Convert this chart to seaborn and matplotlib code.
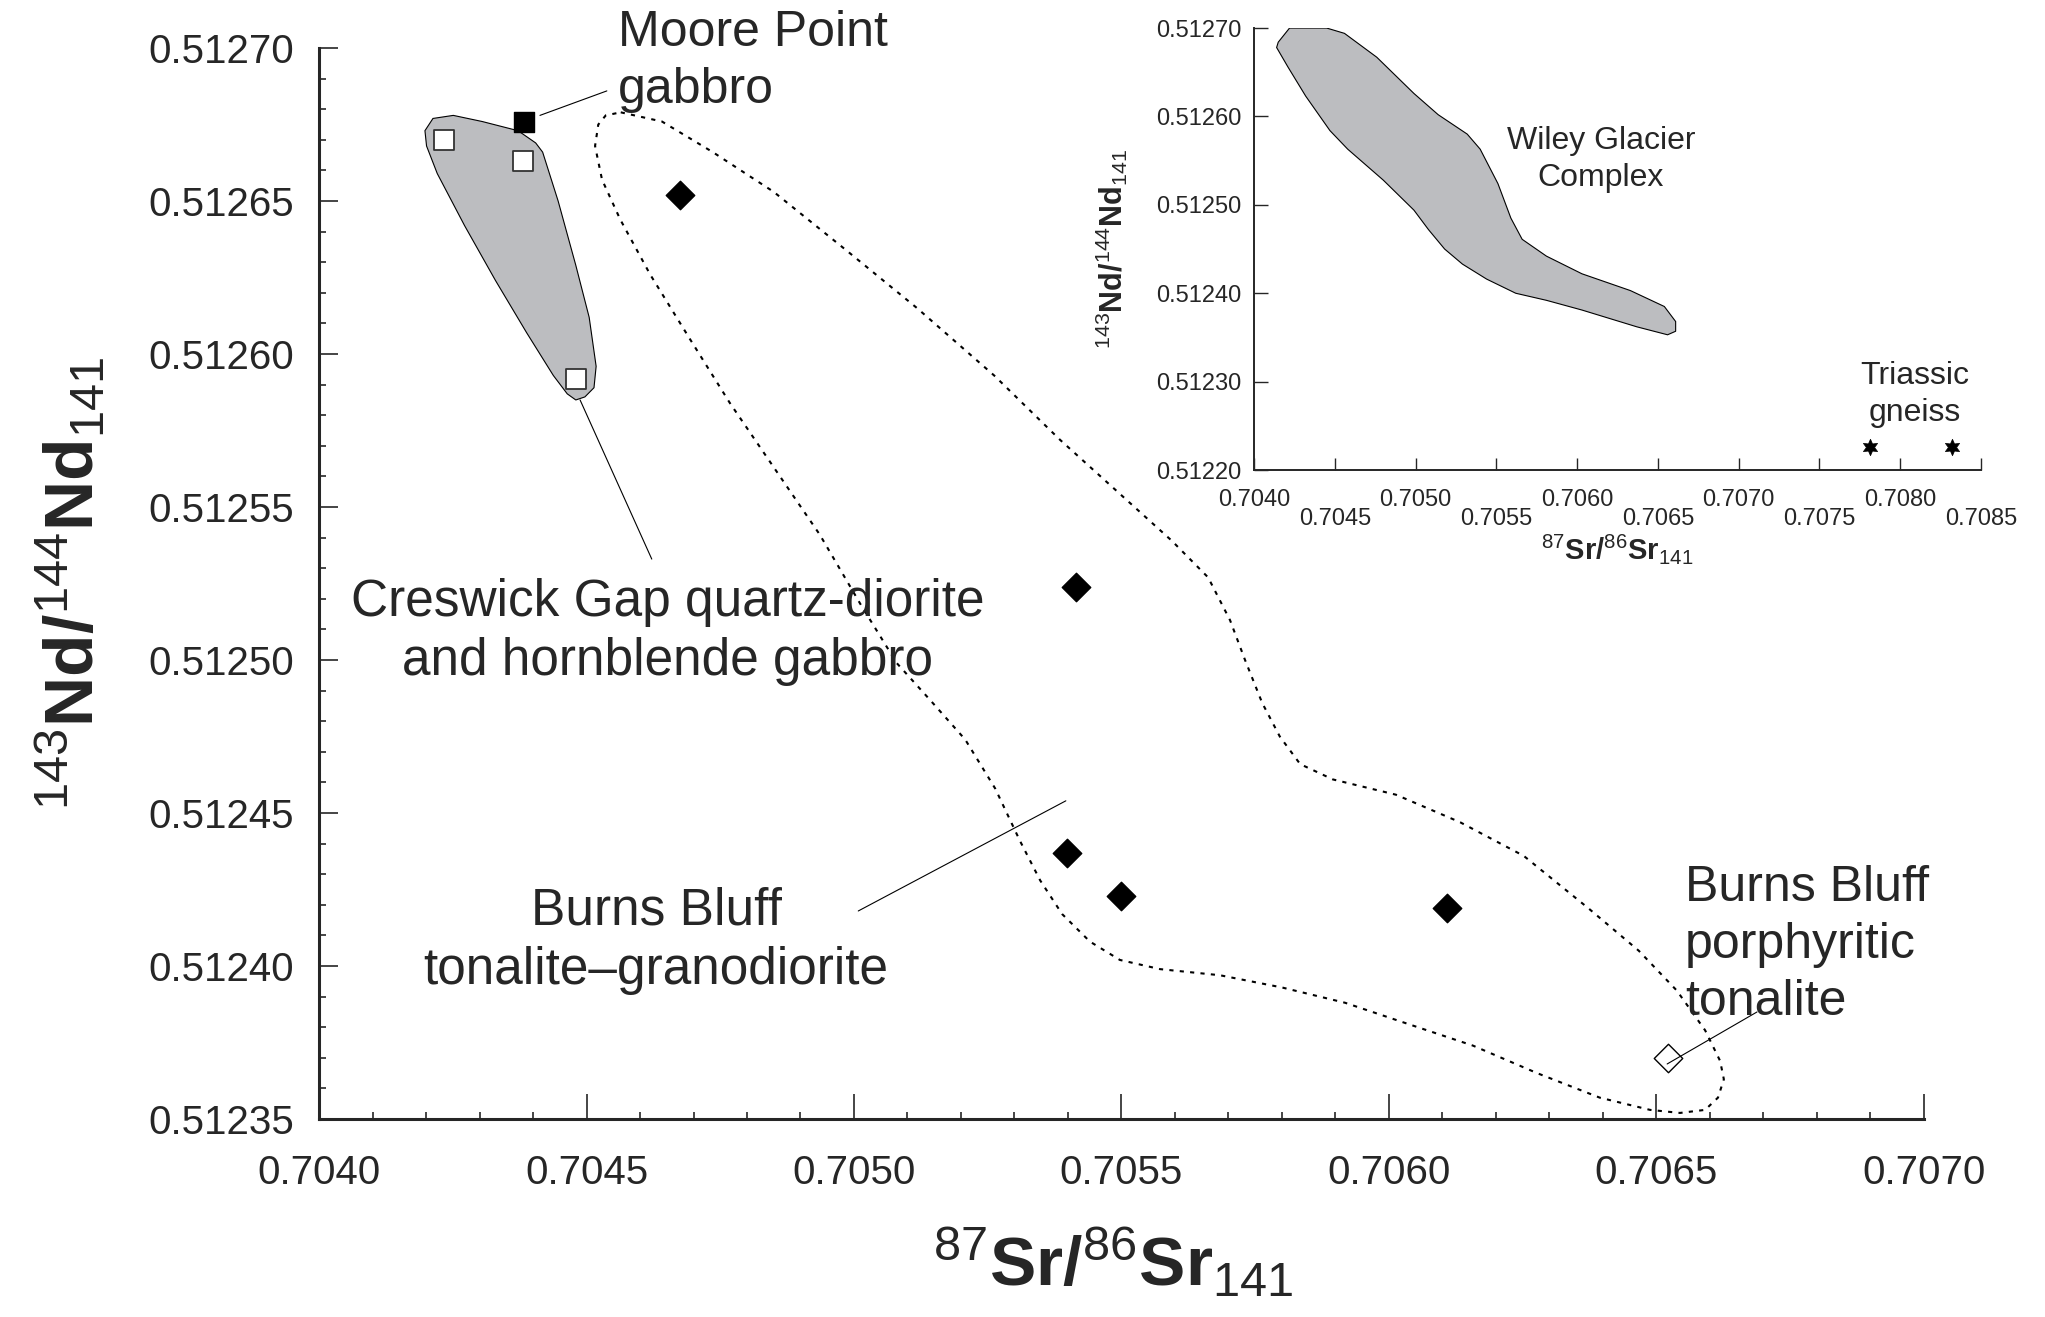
import numpy as np
import matplotlib
matplotlib.use('Agg')
import matplotlib.pyplot as plt
import seaborn as sns
from matplotlib.ticker import FixedLocator, MultipleLocator, FormatStrFormatter

# --- main plot data (87Sr/86Sr, 143Nd/144Nd) ---
creswick_sr = [0.704234, 0.704381, 0.704481]
creswick_nd = [0.512670, 0.512663, 0.512592]
moore_sr = [0.704383]
moore_nd = [0.512676]
burns_sr = [0.704674, 0.705415, 0.705398, 0.705500, 0.706109]
burns_nd = [0.512652, 0.512524, 0.512437, 0.512423, 0.512419]
porph_sr = [0.706522]
porph_nd = [0.512370]

# Creswick Gap field (grey)
creswick_field_sr = [0.704251, 0.704305, 0.704372, 0.704405, 0.704418, 0.704447, 0.704480,
                     0.704505, 0.704518, 0.704514, 0.704497, 0.704480, 0.704464, 0.704438,
                     0.704388, 0.704330, 0.704272, 0.704221, 0.704201, 0.704198, 0.704213]
creswick_field_nd = [0.512678, 0.512676, 0.512673, 0.512669, 0.512666, 0.512650, 0.512629,
                     0.512612, 0.512596, 0.512589, 0.512586, 0.512585, 0.512587, 0.512593,
                     0.512607, 0.512624, 0.512642, 0.512659, 0.512668, 0.512673, 0.512677]

# Burns Bluff field (dotted outline)
burns_field_sr = [0.704564, 0.704641, 0.704736, 0.704850, 0.704985, 0.705118, 0.705262, 0.705385,
                  0.705499, 0.705594, 0.705662, 0.705703, 0.705731, 0.705763, 0.705796, 0.705834,
                  0.705895, 0.706013, 0.706133, 0.706252, 0.706372, 0.706467, 0.706538, 0.706591,
                  0.706619, 0.706626, 0.706615, 0.706591, 0.706544, 0.706488, 0.706394, 0.706277,
                  0.706157, 0.706037, 0.705918, 0.705800, 0.705684, 0.705572, 0.705497, 0.705441,
                  0.705389, 0.705348, 0.705310, 0.705264, 0.705208, 0.705142, 0.705080, 0.705013,
                  0.704936, 0.704850, 0.704768, 0.704693, 0.704619, 0.704563, 0.704529, 0.704516,
                  0.704522, 0.704536]
burns_field_nd = [0.512679, 0.512676, 0.512666, 0.512653, 0.512634, 0.512615, 0.512593, 0.512572,
                  0.512554, 0.512539, 0.512527, 0.512513, 0.512500, 0.512486, 0.512475, 0.512466,
                  0.512461, 0.512456, 0.512447, 0.512436, 0.512419, 0.512405, 0.512392, 0.512379,
                  0.512369, 0.512363, 0.512357, 0.512353, 0.512352, 0.512353, 0.512357, 0.512365,
                  0.512374, 0.512381, 0.512388, 0.512393, 0.512397, 0.512399, 0.512402, 0.512408,
                  0.512417, 0.512428, 0.512441, 0.512458, 0.512474, 0.512487, 0.512499, 0.512518,
                  0.512541, 0.512563, 0.512584, 0.512605, 0.512626, 0.512644, 0.512657, 0.512668,
                  0.512675, 0.512678]

# --- inset data ---
wiley_sr = [0.70422, 0.70445, 0.70456, 0.70476, 0.70499, 0.70514, 0.70532, 0.70540, 0.70551,
            0.70559, 0.70566, 0.70581, 0.70603, 0.70633, 0.70654, 0.70661, 0.70661, 0.70656,
            0.70637, 0.70603, 0.70581, 0.70562, 0.70544, 0.70529, 0.70518, 0.70508, 0.70499,
            0.70480, 0.70458, 0.70447, 0.70432, 0.70421, 0.70414, 0.70415]
wiley_nd = [0.512700, 0.512700, 0.512694, 0.512667, 0.512626, 0.512602, 0.512580, 0.512563,
            0.512524, 0.512485, 0.512461, 0.512442, 0.512422, 0.512403, 0.512385, 0.512368,
            0.512357, 0.512353, 0.512362, 0.512381, 0.512392, 0.512400, 0.512416, 0.512433,
            0.512450, 0.512472, 0.512494, 0.512528, 0.512563, 0.512584, 0.512623, 0.512656,
            0.512678, 0.512684]
triassic_sr = [0.707813, 0.708321]
triassic_nd = [0.512226, 0.512226]

# tick labels
main_xticks = [0.7040, 0.7045, 0.7050, 0.7055, 0.7060, 0.7065, 0.7070]
main_yticks = [0.51235, 0.51240, 0.51245, 0.51250, 0.51255, 0.51260, 0.51265, 0.51270]
inset_xticks_top = [0.7040, 0.7050, 0.7060, 0.7070, 0.7080]
inset_xticks_low = [0.7045, 0.7055, 0.7065, 0.7075, 0.7085]
inset_yticks = [0.51220, 0.51230, 0.51240, 0.51250, 0.51260, 0.51270]

sns.set_style('ticks')
plt.rcParams['font.family'] = ['Liberation Sans', 'DejaVu Sans']
plt.rcParams['mathtext.fontset'] = 'custom'
plt.rcParams['mathtext.rm'] = 'Liberation Sans'
plt.rcParams['mathtext.it'] = 'Liberation Sans:italic'
plt.rcParams['mathtext.bf'] = 'Liberation Sans:bold'

fig = plt.figure(figsize=(20.45, 13.17), dpi=100)
ax = fig.add_axes([0.1560, 0.1503, 0.7848, 0.8132])

ax.fill(creswick_field_sr, creswick_field_nd, facecolor='#bcbdc0', edgecolor='black', lw=0.8, zorder=1)
ax.fill(burns_field_sr, burns_field_nd, facecolor='none', edgecolor='black', lw=1.5,
        linestyle=(0, (2, 3)), zorder=1)

sns.scatterplot(x=creswick_sr, y=creswick_nd, marker='s', s=210, color='white',
                edgecolor='#333333', linewidth=1.3, ax=ax, zorder=3)
sns.scatterplot(x=moore_sr, y=moore_nd, marker='s', s=210, color='black',
                edgecolor='black', linewidth=1, ax=ax, zorder=3)
sns.scatterplot(x=burns_sr, y=burns_nd, marker='D', s=210, color='black',
                edgecolor='black', linewidth=1, ax=ax, zorder=3)
sns.scatterplot(x=porph_sr, y=porph_nd, marker='D', s=210, color='white',
                edgecolor='black', linewidth=1, ax=ax, zorder=3)

# leader lines
ax.plot([0.704413, 0.704538], [0.512678, 0.512686], color='black', lw=0.8, clip_on=False)
ax.plot([0.704488, 0.704622], [0.512585, 0.512533], color='black', lw=0.8)
ax.plot([0.705008, 0.705396], [0.512418, 0.512454], color='black', lw=0.8)
ax.plot([0.706520, 0.706688], [0.512368, 0.512385], color='black', lw=0.8, zorder=4)

# multi-line texts: anchored on the baseline of the last line
ax.text(0.704559, 0.512682, 'Moore Point\ngabbro', fontsize=36, ha='left', va='baseline',
        linespacing=1.3, clip_on=False)
ax.text(0.704652, 0.512495, 'Creswick Gap quartz-diorite\nand hornblende gabbro', fontsize=37,
        ha='center', va='baseline', linespacing=1.28)
ax.text(0.704630, 0.512394, 'Burns Bluff\ntonalite\u2013granodiorite', fontsize=37,
        ha='center', va='baseline', linespacing=1.28)
ax.text(0.706553, 0.512384, 'Burns Bluff\nporphyritic\ntonalite', fontsize=36,
        ha='left', va='baseline', linespacing=1.3)

ax.set_xlim(0.7040, 0.7070)
ax.set_ylim(0.51235, 0.51270)
ax.xaxis.set_major_locator(FixedLocator(main_xticks))
ax.xaxis.set_minor_locator(MultipleLocator(0.0001))
ax.yaxis.set_major_locator(FixedLocator(main_yticks))
ax.yaxis.set_minor_locator(MultipleLocator(0.00001))
ax.xaxis.set_major_formatter(FormatStrFormatter('%.4f'))
ax.yaxis.set_major_formatter(FormatStrFormatter('%.5f'))
ax.tick_params(axis='x', which='major', direction='in', length=18, width=1.2, pad=25, labelsize=29)
ax.tick_params(axis='x', which='minor', direction='in', length=5, width=1.2)
ax.tick_params(axis='y', which='major', direction='in', length=14, width=1.2, pad=18, labelsize=29)
ax.tick_params(axis='y', which='minor', direction='in', length=5, width=1.2)
sns.despine(ax=ax)
for side in ['left', 'bottom']:
    ax.spines[side].set_linewidth(2.2)
ax.set_facecolor('none')

ax.set_xlabel(r'$^{87}$Sr/$^{86}$Sr$_{141}$', fontsize=50, fontweight='bold')
ax.set_ylabel(r'$^{143}$Nd/$^{144}$Nd$_{141}$', fontsize=50, fontweight='bold')
ax.xaxis.set_label_coords(0.495, -0.100)
ax.yaxis.set_label_coords(-0.1315, 0.5)

# --- inset ---
axin = fig.add_axes([0.6132, 0.6431, 0.3555, 0.3356])
axin.fill(wiley_sr, wiley_nd, facecolor='#bcbdc0', edgecolor='black', lw=0.8)
sns.scatterplot(x=triassic_sr, y=triassic_nd, marker=(6, 1, 0), s=140, color='black',
                edgecolor='black', linewidth=0.5, ax=axin)
axin.text(0.706148, 0.512521, 'Wiley Glacier\nComplex', fontsize=23, ha='center', va='baseline',
          linespacing=1.3)
axin.text(0.708092, 0.512256, 'Triassic\ngneiss', fontsize=23, ha='center', va='baseline',
          linespacing=1.3)

axin.set_xlim(0.7040, 0.7085)
axin.set_ylim(0.51220, 0.51270)
axin.xaxis.set_major_locator(FixedLocator(inset_xticks_top))
axin.xaxis.set_minor_locator(FixedLocator(inset_xticks_low))
axin.xaxis.set_major_formatter(FormatStrFormatter('%.4f'))
axin.xaxis.set_minor_formatter(FormatStrFormatter('%.4f'))
axin.yaxis.set_major_locator(FixedLocator(inset_yticks))
axin.yaxis.set_major_formatter(FormatStrFormatter('%.5f'))
axin.tick_params(axis='x', which='major', direction='in', length=9, width=1, pad=14, labelsize=17)
axin.tick_params(axis='x', which='minor', direction='in', length=9, width=1, pad=27, labelsize=17)
axin.tick_params(axis='y', direction='in', length=10, width=1, pad=9, labelsize=17)
sns.despine(ax=axin)
for side in ['left', 'bottom']:
    axin.spines[side].set_linewidth(1.4)
axin.set_facecolor('none')
axin.set_xlabel(r'$^{87}$Sr/$^{86}$Sr$_{141}$', fontsize=21, fontweight='bold')
axin.set_ylabel(r'$^{143}$Nd/$^{144}$Nd$_{141}$', fontsize=22, fontweight='bold')
axin.xaxis.set_label_coords(0.5, -0.14)
axin.yaxis.set_label_coords(-0.17, 0.5)

fig.savefig('out.png', dpi=100)
